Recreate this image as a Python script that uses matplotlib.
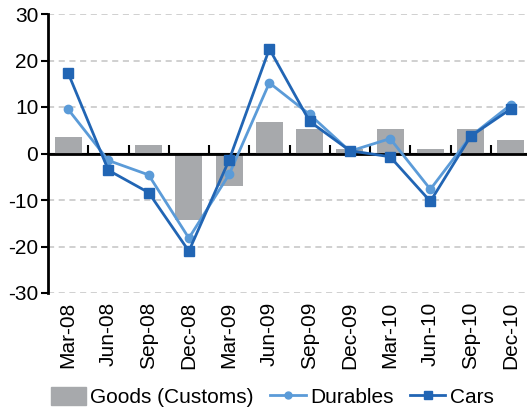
import matplotlib.pyplot as plt
from matplotlib.lines import Line2D
from matplotlib.patches import Patch

# -----------------------------
# Data
# -----------------------------
quarters = ["Mar-08", "Jun-08", "Sep-08", "Dec-08", "Mar-09", "Jun-09",
            "Sep-09", "Dec-09", "Mar-10", "Jun-10", "Sep-10", "Dec-10"]
goods = [3.5, 0.0, 1.9, -14.3, -7.0, 6.7, 5.2, 0.9, 5.2, 0.9, 5.2, 3.0]
durables = [9.5, -1.5, -4.6, -18.2, -4.5, 15.2, 8.4, 0.5, 3.2, -7.7, 3.7, 10.5]
cars = [17.3, -3.6, -8.4, -21.0, -1.4, 22.5, 6.9, 0.6, -0.7, -10.3, 3.7, 9.6]
yticks = [-30, -20, -10, 0, 10, 20, 30]

bar_col = "#A7A9AC"
dur_col = "#5B9BD8"
car_col = "#2165B4"

plt.rcParams["font.family"] = ["Liberation Sans", "DejaVu Sans"]
fs = 15

fig = plt.figure(figsize=(5.27, 4.09), dpi=100)
ax = fig.add_axes([48 / 527, 116 / 409, 483 / 527, 279 / 409])

x = list(range(len(quarters)))

ax.bar(x, goods, width=0.67, color=bar_col, zorder=2)
ax.plot(x, durables, color=dur_col, lw=2, marker="o", ms=6, zorder=3)
ax.plot(x, cars, color=car_col, lw=2, marker="s", ms=7, zorder=4)

ax.set_xlim(-0.5, len(quarters) - 0.5)
ax.set_ylim(-30, 30)
ax.set_yticks(yticks)
ax.set_yticklabels([str(v) for v in yticks], fontsize=fs)
for v in yticks:
    if v != 0:
        ax.axhline(v, color="#C4C4C4", lw=1.1, ls=(0, (4, 3)), zorder=1)
ax.axhline(0, color="black", lw=2, zorder=2.5)

# category labels at the bottom
ax.set_xticks(x)
ax.set_xticklabels(quarters, rotation=90, fontsize=fs)
ax.tick_params(axis="x", length=0, pad=6)
ax.tick_params(axis="y", length=5, width=1.5, direction="out", pad=2)

for s in ["top", "right", "bottom"]:
    ax.spines[s].set_visible(False)
ax.spines["left"].set_linewidth(2)

# boundary ticks hanging off the zero line
sec = ax.secondary_xaxis(0.5)
sec.spines["bottom"].set_visible(False)
sec.set_xticks([i + 0.5 for i in x[:-1]])
sec.set_xticklabels([])
sec.tick_params(axis="x", length=6, width=1.5, direction="out")

handles = [
    Patch(color=bar_col),
    Line2D([], [], color=dur_col, lw=2, marker="o", ms=5),
    Line2D([], [], color=car_col, lw=2, marker="s", ms=6),
]
fig.legend(handles, ["Goods (Customs)", "Durables", "Cars"],
           loc="center", bbox_to_anchor=(272 / 527, 1 - 397 / 409), ncol=3,
           frameon=False, fontsize=fs, handlelength=1.7, handleheight=1.0,
           handletextpad=0.2, columnspacing=0.8, borderpad=0)

fig.savefig("out.png", dpi=100)
